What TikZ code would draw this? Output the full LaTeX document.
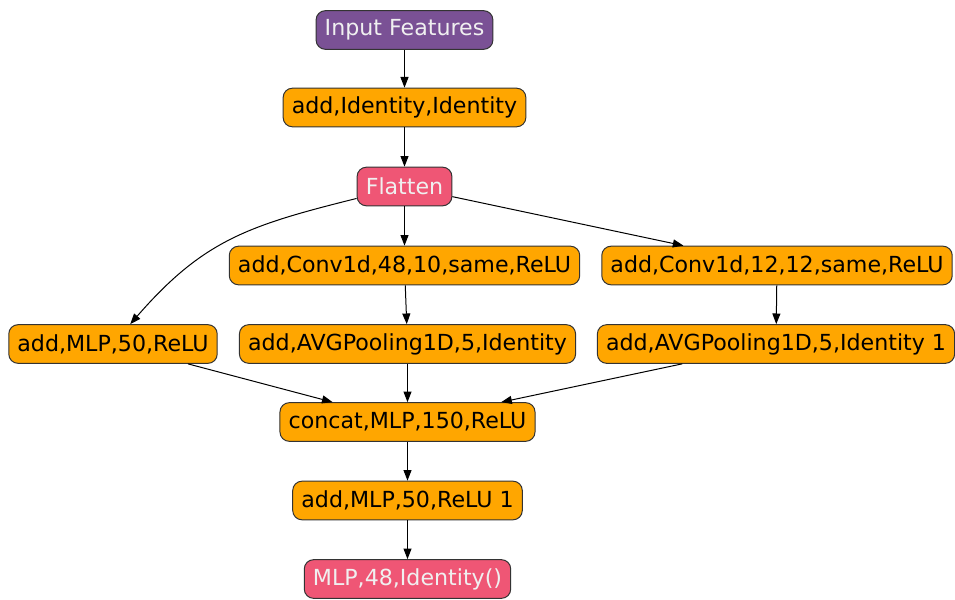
\documentclass[tikz,border=0pt]{standalone}
\usepackage{fontspec}
\setmainfont{DejaVu Sans}
\usetikzlibrary{arrows.meta}
\definecolor{layer orange}{HTML}{FFA600}
\definecolor{input purple}{HTML}{7A5195}
\definecolor{flat pink}{HTML}{EF5675}
\definecolor{light text}{HTML}{F0F0F0}

\begin{document}
\begin{tikzpicture}[%
        x=0.75pt, y=-0.75pt,%
        box/.style={draw=black!80, line width=0.75pt, rounded corners=7pt,%
            minimum height=29pt, inner xsep=6.5pt, inner ysep=0pt,%
            font=\fontsize{16.6}{20}\selectfont},%
        layer/.style={box, fill=layer orange, text=black},%
        input/.style={box, fill=input purple, text=light text},%
        shape op/.style={box, fill=flat pink, text=light text},%
        edge/.style={draw=black, line width=0.75pt,%
            -{Triangle[length=8pt, width=6pt]}}%
    ]
        \useasboundingbox (0,0) rectangle (955,599);%

        %
        % Couches
        %
        % Entree
        \node[input] (input features) at (404.5,30) {Input Features};%
        \node[layer] (add identity) at (404.5,107.5) {add,Identity,Identity};%
        \node[shape op] (flatten) at (404.5,186.5) {Flatten};%

        % Branches
        \node[layer] (conv a) at (404.5,265.5) {add,Conv1d,48,10,same,ReLU};%
        \node[layer] (conv b) at (777,265.5) {add,Conv1d,12,12,same,ReLU};%
        \node[layer] (mlp a) at (113,344) {add,MLP,50,ReLU};%
        \node[layer] (pool a) at (407.5,344) {add,AVGPooling1D,5,Identity};%
        \node[layer] (pool b) at (776,344) {add,AVGPooling1D,5,Identity 1};%

        % Sortie
        \node[layer] (concat) at (407.5,422) {concat,MLP,150,ReLU};%
        \node[layer] (mlp b) at (407.5,500.5) {add,MLP,50,ReLU 1};%
        \node[shape op] (output) at (407.5,579) {MLP,48,Identity()};%

        %
        % Liaisons
        %
        \foreach \a/\b in {input features/add identity, add identity/flatten,%
            flatten/conv a, flatten/conv b, conv a/pool a, conv b/pool b,%
            mlp a/concat, pool a/concat, pool b/concat, concat/mlp b,%
            mlp b/output} {%
            \draw[edge] (\a) -- (\b);%
        }%
        \draw[edge] (flatten) to[out=194, in=49, looseness=1.1] (mlp a);%
    \end{tikzpicture}
\end{document}
